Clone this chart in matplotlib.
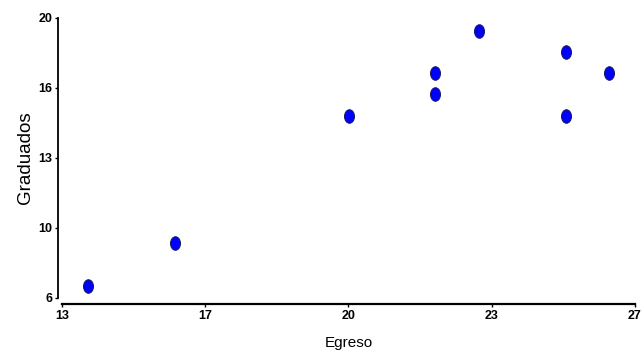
import matplotlib
matplotlib.use("Agg")
import matplotlib.pyplot as plt
from matplotlib.path import Path
from matplotlib.transforms import Affine2D
from matplotlib.markers import MarkerStyle

egreso = [13.63, 15.76, 20.01, 22.11, 22.11, 23.18, 25.31, 25.31, 26.37]
graduados = [6.6, 8.74, 15.1, 17.27, 16.2, 19.37, 18.32, 15.1, 17.27]

x_ticks = [13, 16.5, 20, 23.5, 27]
x_labels = ["13", "17", "20", "23", "27"]
y_ticks = [6, 9.5, 13, 16.5, 20]
y_labels = ["6", "10", "13", "16", "20"]

fam = "Liberation Sans"

fig = plt.figure(figsize=(6.42, 3.52), dpi=100)
ax = fig.add_axes([62/642, 1 - 298/352, (635-62)/642, (298-18)/352])

ell = Path.unit_circle().transformed(Affine2D().scale(0.74, 1.0))
ax.scatter(egreso, graduados, marker=MarkerStyle(ell), s=95,
           facecolor="#0000ff", edgecolor="#1a1a60", linewidth=0.7, zorder=3)

ax.set_xlim(13, 27)
ax.set_ylim(6, 20)
ax.set_xticks(x_ticks)
ax.set_xticklabels(x_labels)
ax.set_yticks(y_ticks)
ax.set_yticklabels(y_labels)

for s in ["top", "right"]:
    ax.spines[s].set_visible(False)
ax.spines["left"].set_position(("outward", 3))
ax.spines["bottom"].set_position(("outward", 4.5))
ax.spines["left"].set_linewidth(1.3)
ax.spines["bottom"].set_linewidth(1.6)

ax.tick_params(axis="both", length=2.5, width=1, pad=1.5, labelsize=9)
ax.tick_params(axis="x", pad=1.5)
for lab in ax.get_xticklabels() + ax.get_yticklabels():
    lab.set_fontfamily(fam)
    lab.set_fontweight("bold")

ax.set_xlabel("Egreso", fontsize=11, family=fam, labelpad=10)
ax.set_ylabel("Graduados", fontsize=13.5, family=fam, labelpad=3)

fig.savefig("out.png", dpi=100)
